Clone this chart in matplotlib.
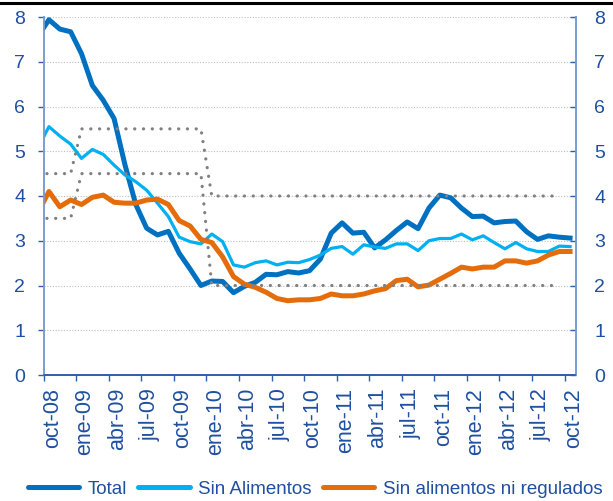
import matplotlib
matplotlib.use("Agg")
import matplotlib.pyplot as plt
from matplotlib.lines import Line2D

# months from sep-08 (clipped at left edge) to oct-12
months = ["sep-08",
          "oct-08", "nov-08", "dic-08", "ene-09", "feb-09", "mar-09", "abr-09", "may-09", "jun-09",
          "jul-09", "ago-09", "sep-09", "oct-09", "nov-09", "dic-09", "ene-10", "feb-10", "mar-10",
          "abr-10", "may-10", "jun-10", "jul-10", "ago-10", "sep-10", "oct-10", "nov-10", "dic-10",
          "ene-11", "feb-11", "mar-11", "abr-11", "may-11", "jun-11", "jul-11", "ago-11", "sep-11",
          "oct-11", "nov-11", "dic-11", "ene-12", "feb-12", "mar-12", "abr-12", "may-12", "jun-12",
          "jul-12", "ago-12", "sep-12", "oct-12"]

total = [7.57,
         7.94, 7.73, 7.67, 7.18, 6.47, 6.14, 5.73, 4.70, 3.81,
         3.28, 3.13, 3.21, 2.72, 2.37, 2.00, 2.10, 2.09, 1.84,
         1.98, 2.07, 2.25, 2.24, 2.31, 2.28, 2.33, 2.59, 3.17,
         3.40, 3.17, 3.19, 2.84, 3.02, 3.23, 3.42, 3.27, 3.73,
         4.02, 3.96, 3.73, 3.54, 3.55, 3.40, 3.43, 3.44, 3.20,
         3.03, 3.11, 3.08, 3.06]

sin_alimentos = [5.08,
                 5.55, 5.34, 5.16, 4.84, 5.04, 4.93, 4.69, 4.47, 4.32,
                 4.13, 3.84, 3.54, 3.08, 2.98, 2.93, 3.15, 2.98, 2.46,
                 2.41, 2.51, 2.55, 2.46, 2.52, 2.51, 2.58, 2.68, 2.83,
                 2.87, 2.70, 2.91, 2.86, 2.83, 2.93, 2.93, 2.78, 3.00,
                 3.05, 3.05, 3.15, 3.02, 3.11, 2.96, 2.82, 2.96, 2.82,
                 2.76, 2.76, 2.88, 2.87]

sin_alim_regulados = [3.63,
                      4.10, 3.76, 3.91, 3.81, 3.97, 4.02, 3.86, 3.84, 3.84,
                      3.91, 3.93, 3.81, 3.45, 3.33, 3.03, 2.96, 2.64, 2.20,
                      2.03, 1.96, 1.85, 1.71, 1.66, 1.68, 1.68, 1.71, 1.81,
                      1.77, 1.77, 1.81, 1.88, 1.93, 2.11, 2.14, 1.97, 2.01,
                      2.14, 2.27, 2.41, 2.37, 2.41, 2.41, 2.55, 2.55, 2.50,
                      2.55, 2.68, 2.76, 2.76]

# inflation target range (sep-08 .. sep-12)
target_low = [3.5, 3.5, 3.5, 3.5,
              4.5, 4.5, 4.5, 4.5, 4.5, 4.5, 4.5, 4.5, 4.5, 4.5, 4.5, 4.5,
              2.0, 2.0, 2.0, 2.0, 2.0, 2.0, 2.0, 2.0, 2.0, 2.0, 2.0, 2.0,
              2.0, 2.0, 2.0, 2.0, 2.0, 2.0, 2.0, 2.0, 2.0, 2.0, 2.0, 2.0,
              2.0, 2.0, 2.0, 2.0, 2.0, 2.0, 2.0, 2.0, 2.0]
target_high = [4.5, 4.5, 4.5, 4.5,
               5.5, 5.5, 5.5, 5.5, 5.5, 5.5, 5.5, 5.5, 5.5, 5.5, 5.5, 5.5,
               4.0, 4.0, 4.0, 4.0, 4.0, 4.0, 4.0, 4.0, 4.0, 4.0, 4.0, 4.0,
               4.0, 4.0, 4.0, 4.0, 4.0, 4.0, 4.0, 4.0, 4.0, 4.0, 4.0, 4.0,
               4.0, 4.0, 4.0, 4.0, 4.0, 4.0, 4.0, 4.0, 4.0]

tick_labels = ["oct-08", "ene-09", "abr-09", "jul-09", "oct-09", "ene-10", "abr-10",
               "jul-10", "oct-10", "ene-11", "abr-11", "jul-11", "oct-11", "ene-12",
               "abr-12", "jul-12", "oct-12"]
y_ticks = [0, 1, 2, 3, 4, 5, 6, 7, 8]
series_names = ["Total", "Sin Alimentos", "Sin alimentos ni regulados"]

# ---- styling ----
plt.rcParams['font.family'] = ['Liberation Sans', 'DejaVu Sans']
TXT = '#1F4FA0'
C_TOTAL = '#0070C0'
C_SA = '#00B0F0'
C_SR = '#E46C0A'
C_TGT = '#808080'

fig = plt.figure(figsize=(6.13, 5.01), dpi=100)
ax = fig.add_axes([43.5 / 613, 126 / 501, 532 / 613, 358 / 501])

# x positions: sep-08 at -0.5, oct-08 at 0.5 (centre of its month), ...
x = [i - 0.5 for i in range(len(months))]
xt = x[:len(target_low)]

ax.set_xlim(0, 49)
ax.set_ylim(0, 8)

for v in y_ticks[1:]:
    ax.axhline(v, color='#BFBFBF', lw=0.8, ls=(0, (1, 1.5)), zorder=1)

ax.plot(x, total, color=C_TOTAL, lw=3.6, solid_joinstyle='round', zorder=3)
ax.plot(x, sin_alimentos, color=C_SA, lw=2.3, solid_joinstyle='round', zorder=4)
ax.plot(x, sin_alim_regulados, color=C_SR, lw=3.6, solid_joinstyle='round', zorder=5)
for tgt in (target_low, target_high):
    ax.plot(xt, tgt, color=C_TGT, lw=2.3, ls=(0, (0.05, 2.7)), dash_capstyle='round', zorder=6)

# axes: major ticks are the marks, minor ticks carry the labels (slightly right)
major_pos = list(range(0, 49, 3))
ax.set_xticks(major_pos)
ax.set_xticklabels([''] * len(major_pos))
ax.set_xticks([p + 0.82 for p in major_pos], minor=True)
ax.set_xticklabels(tick_labels, minor=True, rotation=90, fontsize=15.5, color=TXT)
ax.set_yticks(y_ticks)
ax.set_yticklabels([str(v) for v in y_ticks], fontsize=14, color=TXT)
ax.tick_params(axis='x', which='major', direction='out', length=4.3, width=1, color='#2F5DA8')
ax.tick_params(axis='x', which='minor', length=0, pad=9.3)
ax.tick_params(axis='y', direction='out', length=4.3, width=1, color='#2F5DA8', pad=9)

ax2 = ax.twinx()
ax2.set_ylim(0, 8)
ax2.set_yticks(y_ticks)
ax2.set_yticklabels([str(v) for v in y_ticks], fontsize=14, color=TXT)
ax2.tick_params(axis='y', direction='in', length=4.3, width=1, color='#2F5DA8', pad=13.5)

for a in (ax, ax2):
    a.spines['top'].set_visible(False)
    a.spines['left'].set_color('#7C9CD0')
    a.spines['right'].set_color('#7C9CD0')
    a.spines['bottom'].set_color('#2F5DA8')
    a.spines['left'].set_linewidth(1.2)
    a.spines['right'].set_linewidth(1.2)
    a.spines['bottom'].set_linewidth(1.2)
    a.set_facecolor('none')

# top black rule
fig.add_artist(Line2D([0, 1], [1 - 3 / 501, 1 - 3 / 501], transform=fig.transFigure,
                      color='black', lw=2.2))

handles = [Line2D([], [], color=C_TOTAL, lw=3.6, solid_capstyle='round'),
           Line2D([], [], color=C_SA, lw=3.6, solid_capstyle='round'),
           Line2D([], [], color=C_SR, lw=3.6, solid_capstyle='round')]
leg = fig.legend(handles, series_names, loc='center left', bbox_to_anchor=(27.5 / 613, 12 / 501),
                 ncol=3, frameon=False, fontsize=13.5, handlelength=2.75, handletextpad=0.45,
                 columnspacing=0.6, borderpad=0, borderaxespad=0)
for t in leg.get_texts():
    t.set_color(TXT)

fig.savefig('out.png', dpi=100)
